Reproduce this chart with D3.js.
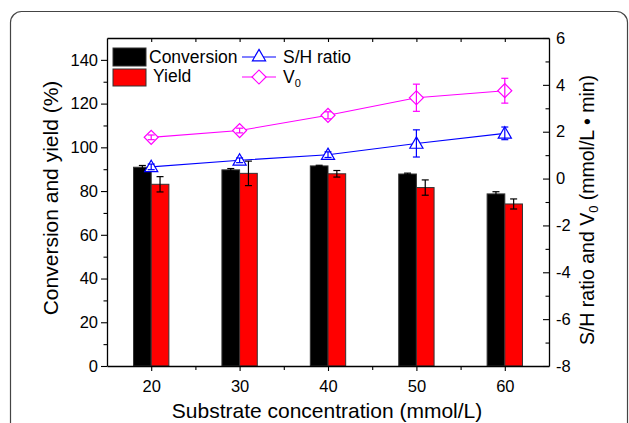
<!DOCTYPE html>
<html>
<head>
<meta charset="utf-8">
<script src="https://cdn.jsdelivr.net/npm/d3@7"></script>
<style>
  body { margin: 0; background: #fff; }
  svg { display: block; font-family: "Liberation Sans", Arial, sans-serif; }
</style>
</head>
<body>
<div id="chart"></div>
<script>
// data
const concentrations = [20, 30, 40, 50, 60];
const conversion = [90.9, 89.7, 91.5, 87.8, 78.7];
const conversionErr = [0.8, 0.6, 0.3, 0.4, 1.0];
const yieldVals = [83.1, 88.1, 87.9, 81.6, 74.1];
const yieldErr = [3.5, 5.6, 1.5, 3.5, 2.3];
const shRatio = [0.5, 0.78, 1.02, 1.5, 1.93];
const shErr = [0.12, 0.1, 0.12, 0.58, 0.27];
const v0 = [1.76, 2.05, 2.7, 3.45, 3.75];
const v0Err = [0.1, 0.1, 0.15, 0.58, 0.53];
const leftTicks = [0, 20, 40, 60, 80, 100, 120, 140];
const rightTicks = [-8, -6, -4, -2, 0, 2, 4, 6];

const width = 629, height = 423;

const svg = d3.select('#chart').append('svg')
  .attr('width', width)
  .attr('height', height);

// outer rounded frame
svg.append('rect')
  .attr('x', 10.5).attr('y', 11.5)
  .attr('width', 617).attr('height', 500)
  .attr('rx', 11)
  .attr('fill', 'none')
  .attr('stroke', '#444')
  .attr('stroke-width', 1.2);

const x = d3.scaleLinear().domain([15, 65]).range([107, 549]);
const y = d3.scaleLinear().domain([0, 150]).range([366, 38]);
const y2 = d3.scaleLinear().domain([-8, 6]).range([366, 38]);

const barW = x(2) - x(0);

// bars
const g = svg.append('g');
g.selectAll('.conv').data(concentrations).enter().append('rect')
  .attr('x', (d) => x(d) - barW)
  .attr('y', (d, i) => y(conversion[i]))
  .attr('width', barW)
  .attr('height', (d, i) => y(0) - y(conversion[i]))
  .attr('fill', '#000')
  .attr('stroke', '#333')
  .attr('stroke-width', 1);

g.selectAll('.yld').data(concentrations).enter().append('rect')
  .attr('x', (d) => x(d))
  .attr('y', (d, i) => y(yieldVals[i]))
  .attr('width', barW)
  .attr('height', (d, i) => y(0) - y(yieldVals[i]))
  .attr('fill', '#ff0000')
  .attr('stroke', '#333')
  .attr('stroke-width', 1);

function errorBars(xs, vals, errs, scale, color, cap) {
  xs.forEach((cx, i) => {
    const top = scale(vals[i] + errs[i]);
    const bot = scale(vals[i] - errs[i]);
    g.append('line').attr('x1', cx).attr('x2', cx).attr('y1', top).attr('y2', bot)
      .attr('stroke', color).attr('stroke-width', 1.2);
    [top, bot].forEach(yy => {
      g.append('line').attr('x1', cx - cap).attr('x2', cx + cap).attr('y1', yy).attr('y2', yy)
        .attr('stroke', color).attr('stroke-width', 1.2);
    });
  });
}

errorBars(concentrations.map(d => x(d) - barW / 2), conversion, conversionErr, y, '#000', 3.5);
errorBars(concentrations.map(d => x(d) + barW / 2), yieldVals, yieldErr, y, '#000', 3.5);

// line series
const line = d3.line();
g.append('path')
  .attr('d', line(concentrations.map((d, i) => [x(d), y2(shRatio[i])])))
  .attr('fill', 'none').attr('stroke', '#0000ff').attr('stroke-width', 1.1);
g.append('path')
  .attr('d', line(concentrations.map((d, i) => [x(d), y2(v0[i])])))
  .attr('fill', 'none').attr('stroke', '#ff00ff').attr('stroke-width', 1.1);

const tri = d3.symbol().type(d3.symbolTriangle).size(75);
const dia = d3.symbol().type(d3.symbolSquare).size(98);

g.selectAll('.tri').data(concentrations).enter().append('path')
  .attr('d', tri)
  .attr('transform', (d, i) => 'translate(' + x(d) + ',' + (y2(shRatio[i]) + 1) + ')')
  .attr('fill', '#fff').attr('stroke', '#0000ff').attr('stroke-width', 1.2);

g.selectAll('.dia').data(concentrations).enter().append('path')
  .attr('d', dia)
  .attr('transform', (d, i) => 'translate(' + x(d) + ',' + y2(v0[i]) + ') rotate(45)')
  .attr('fill', '#fff').attr('stroke', '#ff00ff').attr('stroke-width', 1.2);

errorBars(concentrations.map(d => x(d)), shRatio, shErr, y2, '#0000ff', 3.5);
errorBars(concentrations.map(d => x(d)), v0, v0Err, y2, '#ff00ff', 3.5);

// axes
function styleAxis(sel) {
  sel.selectAll('path').attr('stroke', '#000').attr('stroke-width', 1.3);
  sel.selectAll('line').attr('stroke', '#000').attr('stroke-width', 1.1);
  sel.selectAll('text').attr('font-size', 16.5).attr('fill', '#000')
    .attr('font-family', '"Liberation Sans", Arial, sans-serif');
}
const plainFmt = d => String(d);

// bottom
const xAxis = svg.append('g').attr('transform', 'translate(0,366)')
  .call(d3.axisBottom(x).tickValues(concentrations).tickSize(5).tickSizeOuter(0).tickPadding(9).tickFormat(plainFmt));
styleAxis(xAxis);
svg.append('g').attr('transform', 'translate(0,366)')
  .call(d3.axisBottom(x).tickValues([25, 35, 45, 55]).tickSize(4).tickSizeOuter(0).tickFormat(''))
  .call(styleAxis).select('.domain').remove();

// top
svg.append('g').attr('transform', 'translate(0,38)')
  .call(d3.axisBottom(x).tickValues(d3.range(20, 65, 5)).tickSize(4).tickSizeOuter(0).tickFormat(''))
  .call(styleAxis);

// left
const yAxis = svg.append('g').attr('transform', 'translate(107,0)')
  .call(d3.axisLeft(y).tickValues(leftTicks).tickSize(6).tickSizeOuter(0).tickPadding(3).tickFormat(plainFmt));
styleAxis(yAxis);
svg.append('g').attr('transform', 'translate(107,0)')
  .call(d3.axisLeft(y).tickValues(d3.range(10, 150, 20)).tickSize(3.5).tickFormat(''))
  .call(styleAxis).select('.domain').remove();

// right
const y2Axis = svg.append('g').attr('transform', 'translate(549,0)')
  .call(d3.axisRight(y2).tickValues(rightTicks).tickSize(-6).tickSizeOuter(0).tickFormat(plainFmt));
styleAxis(y2Axis);
y2Axis.selectAll('text').attr('x', 7);
svg.append('g').attr('transform', 'translate(549,0)')
  .call(d3.axisRight(y2).tickValues(d3.range(-7, 6, 2)).tickSize(-3.5).tickFormat(''))
  .call(styleAxis).select('.domain').remove();

// axis titles
svg.append('text')
  .attr('x', (107 + 549) / 2 - 1).attr('y', 418)
  .attr('text-anchor', 'middle').attr('font-size', 21)
  .text('Substrate concentration (mmol/L)');

svg.append('text')
  .attr('transform', 'translate(58,198) rotate(-90)')
  .attr('text-anchor', 'middle').attr('font-size', 21)
  .text('Conversion and yield (%)');

const rt = svg.append('text')
  .attr('transform', 'translate(594,210) rotate(-90)')
  .attr('text-anchor', 'middle').attr('font-size', 19.5);
rt.append('tspan').text('S/H ratio and V');
rt.append('tspan').attr('font-size', 13).attr('dy', 4).text('0');
rt.append('tspan').attr('dy', -4).text(' (mmol/L \u2022 min)');

// legend
const leg = svg.append('g');
leg.append('rect').attr('x', 113).attr('y', 48).attr('width', 33).attr('height', 18)
  .attr('fill', '#000').attr('stroke', '#333');
leg.append('rect').attr('x', 113).attr('y', 69).attr('width', 33).attr('height', 17)
  .attr('fill', '#ff0000').attr('stroke', '#333');
leg.append('text').attr('x', 149).attr('y', 63).attr('font-size', 17.5).text('Conversion');
leg.append('text').attr('x', 153).attr('y', 82).attr('font-size', 17.5).text('Yield');

leg.append('line').attr('x1', 242).attr('x2', 276).attr('y1', 57).attr('y2', 57)
  .attr('stroke', '#0000ff').attr('stroke-width', 1.1);
leg.append('path').attr('d', tri).attr('transform', 'translate(259,57)')
  .attr('fill', '#fff').attr('stroke', '#0000ff').attr('stroke-width', 1.2);
leg.append('text').attr('x', 283).attr('y', 63).attr('font-size', 17.5).text('S/H ratio');

leg.append('line').attr('x1', 242).attr('x2', 276).attr('y1', 77).attr('y2', 77)
  .attr('stroke', '#ff00ff').attr('stroke-width', 1.1);
leg.append('path').attr('d', dia).attr('transform', 'translate(259,77) rotate(45)')
  .attr('fill', '#fff').attr('stroke', '#ff00ff').attr('stroke-width', 1.2);
const vt = leg.append('text').attr('x', 283).attr('y', 83).attr('font-size', 17.5);
vt.append('tspan').text('V');
vt.append('tspan').attr('font-size', 11).attr('dy', 4).text('0');
</script>
</body>
</html>
